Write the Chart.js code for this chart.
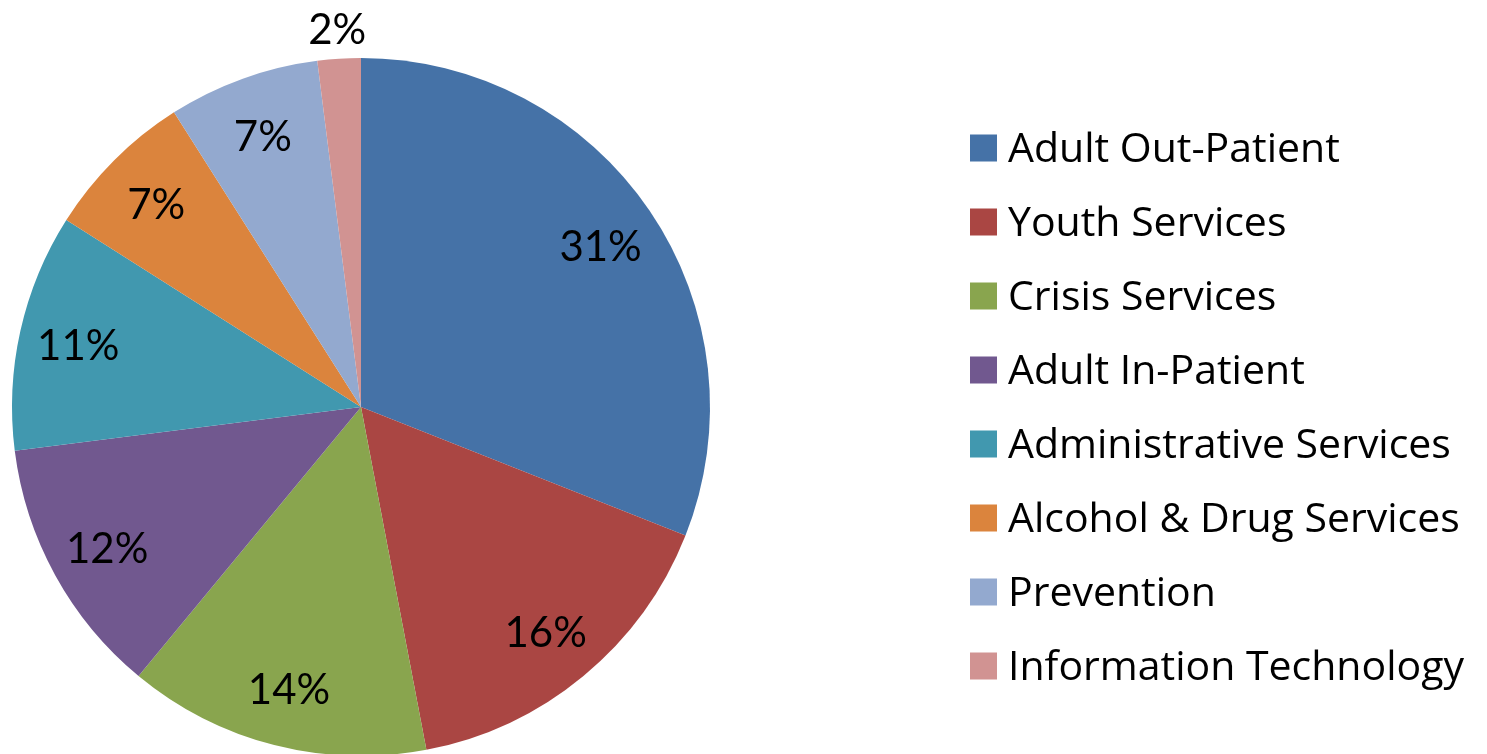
<!DOCTYPE html>
<html>
<head>
<meta charset="utf-8">
<script src="https://cdn.jsdelivr.net/npm/chart.js@4.4.0/dist/chart.umd.min.js"></script>
<style>
  html, body { margin: 0; padding: 0; background: #ffffff; overflow: hidden; }
  #wrap { position: absolute; left: 0; top: 0; width: 1487px; height: 760px; }
</style>
</head>
<body>
<div id="wrap"><canvas id="c" width="1487" height="760"></canvas></div>
<script>
const categories = [
  "Adult Out-Patient",
  "Youth Services",
  "Crisis Services",
  "Adult In-Patient",
  "Administrative Services",
  "Alcohol & Drug Services",
  "Prevention",
  "Information Technology"
];
const shares = [31, 16, 14, 12, 11, 7, 7, 2];
const colors = ["#4572A7", "#AA4643", "#89A54E", "#71588F", "#4198AF", "#DB843D", "#93A9CF", "#D19392"];

const LABEL_FONT = "Lato, 'Open Sans', sans-serif";
const LEGEND_FONT = "'Open Sans', Lato, sans-serif";

const sliceLabels = {
  id: "sliceLabels",
  afterDatasetsDraw(chart) {
    const ctx = chart.ctx;
    const meta = chart.getDatasetMeta(0);
    ctx.save();
    ctx.font = "42px " + LABEL_FONT;
    ctx.fillStyle = "#000000";
    ctx.textAlign = "center";
    ctx.textBaseline = "middle";
    meta.data.forEach((arc, i) => {
      const p = arc.getProps(["x", "y", "startAngle", "endAngle", "outerRadius"], true);
      const mid = (p.startAngle + p.endAngle) / 2;
      const v = chart.data.datasets[0].data[i];
      const r = v < 5 ? p.outerRadius + 31 : p.outerRadius * 0.83;
      ctx.fillText(v + "%", p.x + Math.cos(mid) * r, p.y + Math.sin(mid) * r + 3);
    });
    ctx.restore();
  }
};

const sideLegend = {
  id: "sideLegend",
  afterDraw(chart) {
    const ctx = chart.ctx;
    const x0 = 970, y0 = 148, step = 74, box = 27;
    ctx.save();
    ctx.font = "41px " + LEGEND_FONT;
    ctx.textAlign = "left";
    ctx.textBaseline = "middle";
    chart.data.labels.forEach((lab, i) => {
      const cy = y0 + i * step;
      ctx.fillStyle = chart.data.datasets[0].backgroundColor[i];
      ctx.fillRect(x0, cy - box / 2, box, box);
      ctx.fillStyle = "#000000";
      ctx.fillText(lab, 1008, cy + 2);
    });
    ctx.restore();
  }
};

new Chart(document.getElementById("c"), {
  type: "pie",
  data: {
    labels: categories,
    datasets: [{
      data: shares,
      backgroundColor: colors,
      borderWidth: 0
    }]
  },
  options: {
    responsive: false,
    animation: false,
    layout: { padding: { left: 12, top: 58, right: 777, bottom: 4 } },
    plugins: {
      legend: { display: false },
      tooltip: { enabled: false }
    }
  },
  plugins: [sliceLabels, sideLegend]
});
</script>
</body>
</html>
